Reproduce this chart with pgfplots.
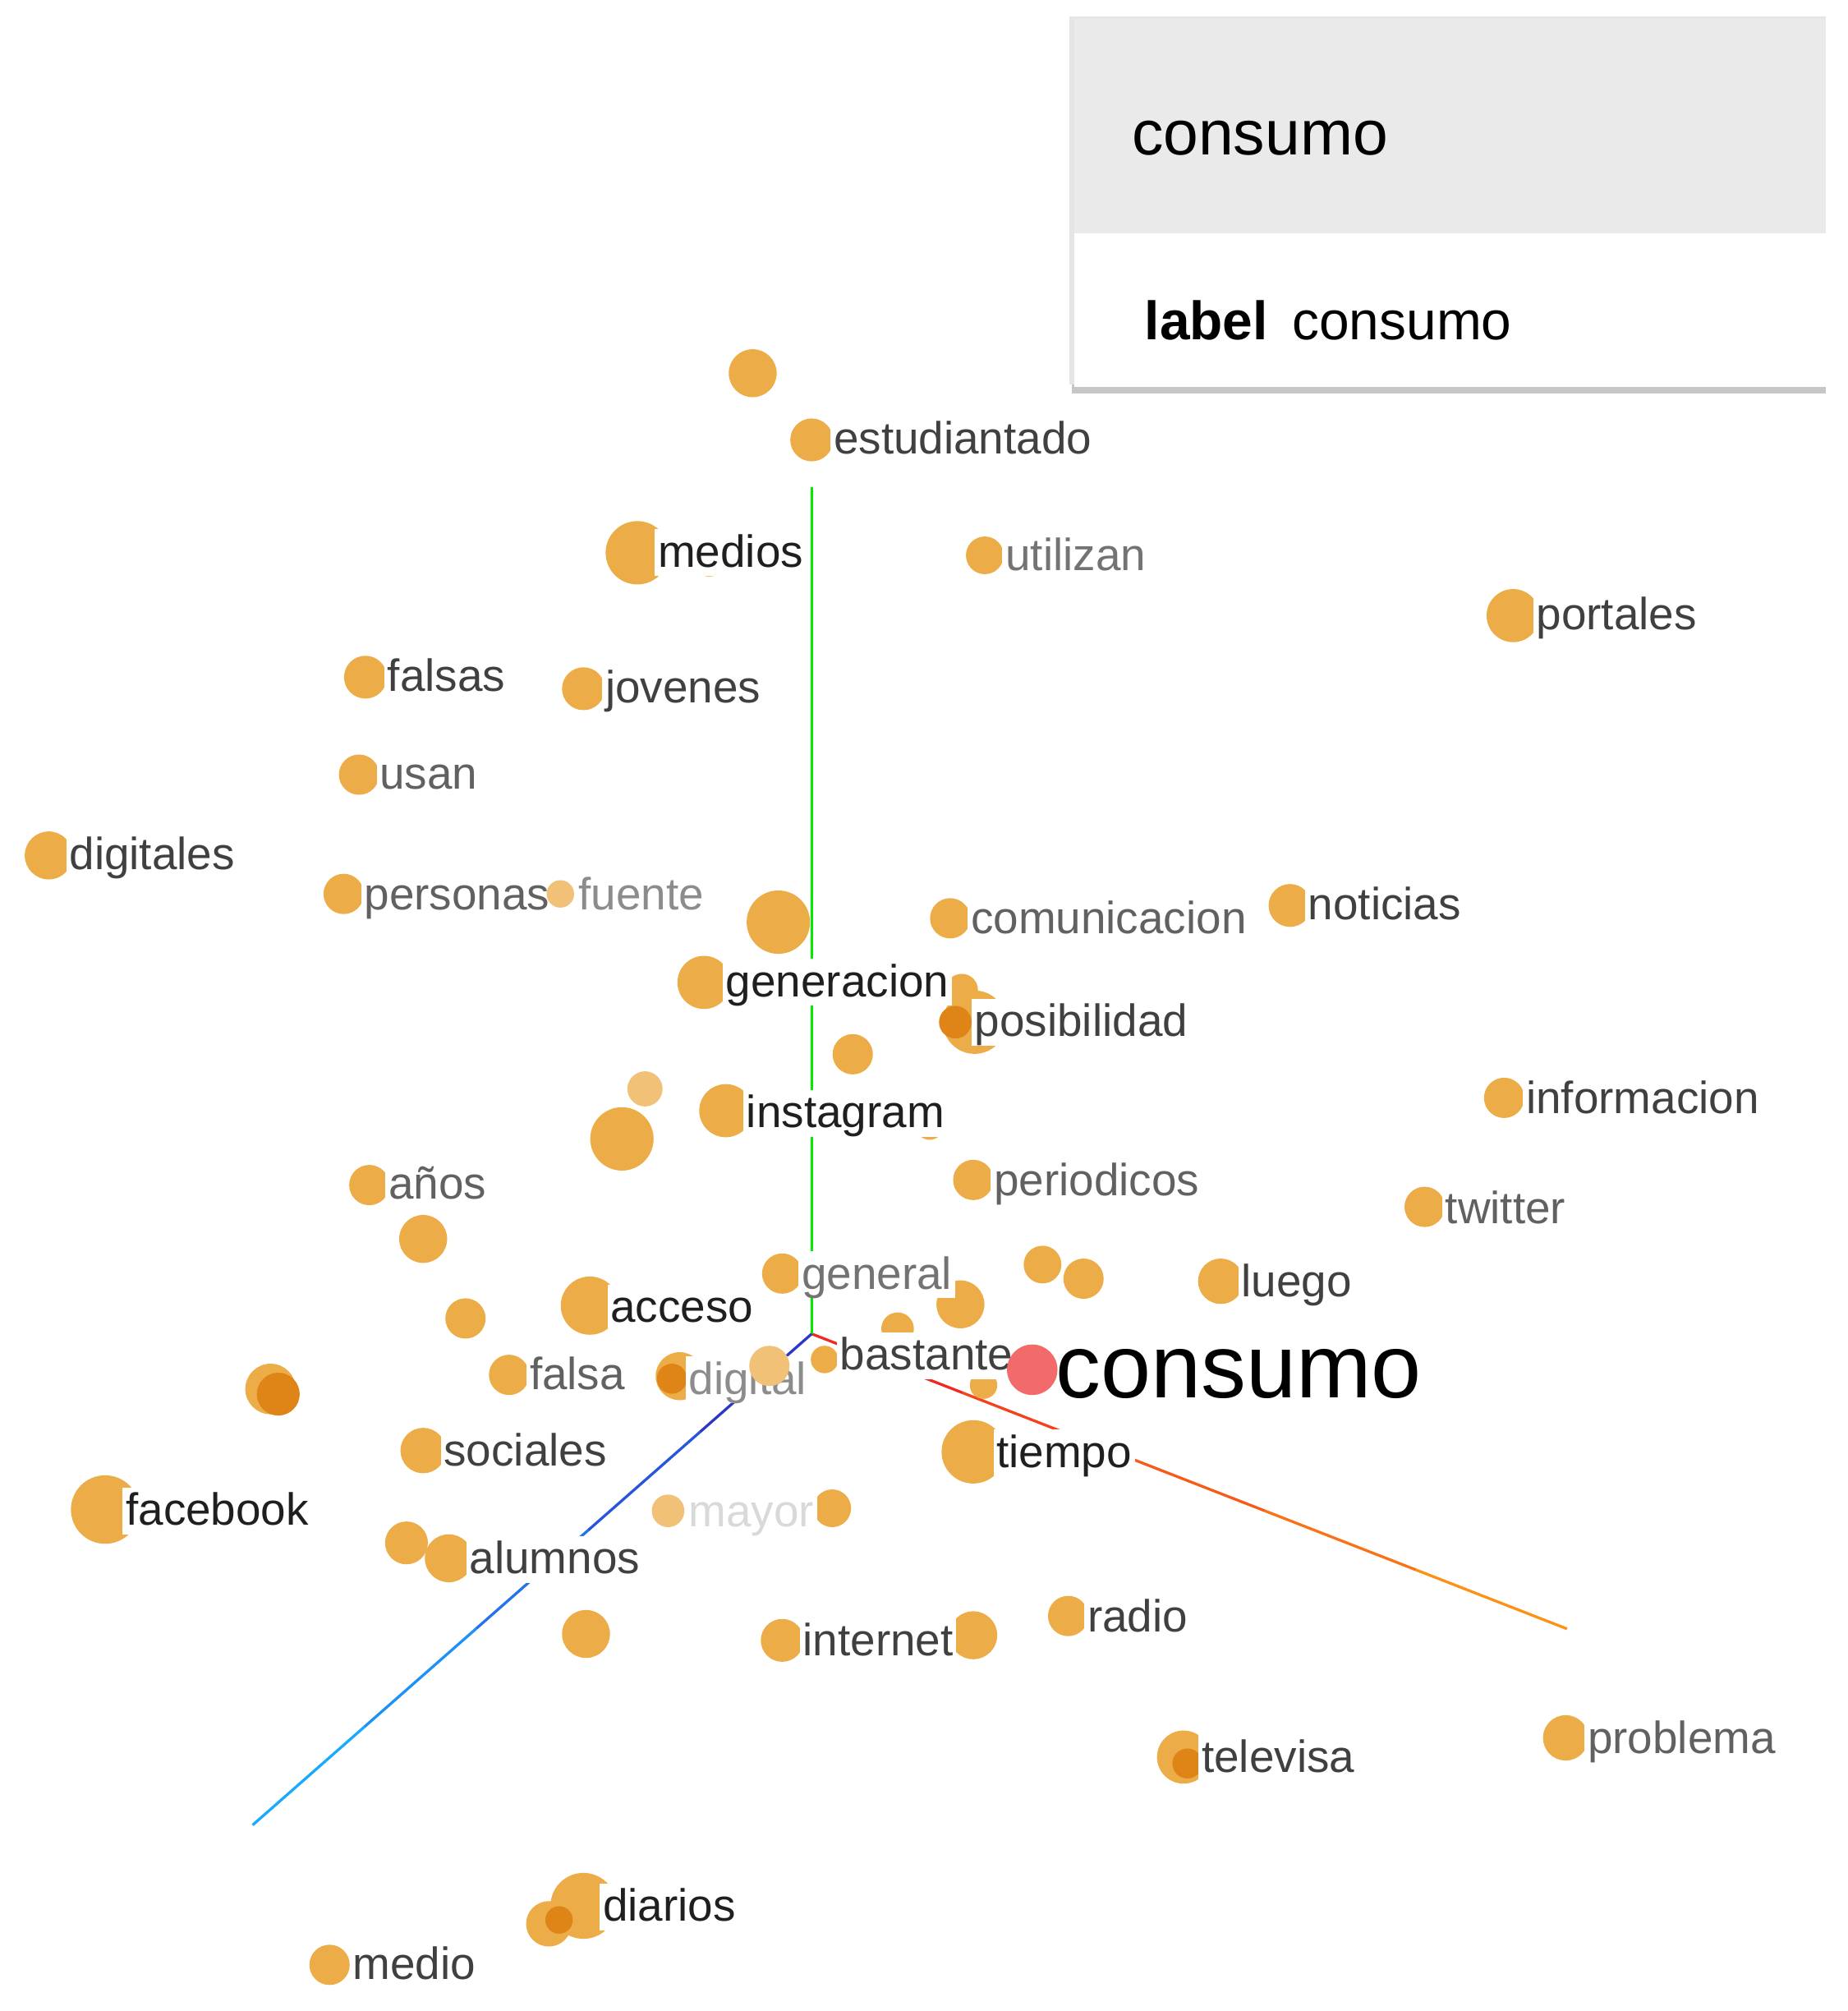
\documentclass[border=0pt]{standalone}
\usepackage{fontspec}
\setmainfont{Liberation Sans}
\usepackage{pgfplots}
\pgfplotsset{compat=1.18}
\usepackage{pgfplotstable}

\definecolor{dotc}{RGB}{236,173,72}
\definecolor{dotl}{RGB}{241,193,120}
\definecolor{dotd}{RGB}{223,132,22}
\definecolor{selc}{RGB}{242,106,106}
\definecolor{hdr}{RGB}{234,234,234}

% circles: x, y (screen px), radius (px)
\pgfplotstableread{
x y r
587 291 18
633 343 16
497 431 24
768 433 14
1180 480 20
285 528 16
455 537 16
280 604 15
38 667 18
268 697 15
607 719 24
741 716 15
1006 706 16
549 766 20
750 772 12
760 797 24
665 822 15
1173 856 15
485 888 24
566 866 20
725 878 10
288 924 15
759 920 15
1111 941 15
330 966 18
610 993 15
813 986 14
845 997 15
952 999 17
749 1017 18
460 1018 22
363 1028 15
700 1036 12
643 1060 10
767 1080 10
397 1072 15
530 1073 18
211 1083 19
330 1131 17
759 1132 24
82 1177 26
649 1176 14
317 1203 16
350 1215 18
457 1274 18
610 1279 16
759 1275 18
833 1260 15
923 1370 20
1221 1355 17
428 1500 17
455 1486 25
257 1532 15
}\dotsnormal

\pgfplotstableread{
x y r
553 440 9
503 849 13
521 1178 12
}\dotslight

\pgfplotstableread{
x y r
217 1087 16
745 797 12
524 1075 11
436 1497 10
926 1375 11
}\dotsdark

% labels: x of text start, y of text middle
\pgfplotstableread{
x y label
510 431 medios
563 766 generacion
579 868 instagram
473 1020 acceso
774 1133 tiempo
95 1178 facebook
467 1487 diarios
}\labdark

\pgfplotstableread{
x y label
647 343 estudiantado
1195 480 portales
299 528 falsas
469 537 jovenes
51 667 digitales
1017 706 noticias
757 797 posibilidad
1187 857 informacion
965 1000 luego
652 1057 bastante
343 1132 sociales
363 1216 alumnos
623 1280 internet
845 1261 radio
934 1371 televisa
272 1532 medio
}\labmid

\pgfplotstableread{
x y label
293 604 usan
300 924 años
772 921 periodicos
1124 943 twitter
754 717 comunicacion
1235 1356 problema
410 1072 falsa
281 698 personas
}\labgrey

\pgfplotstableread{
x y label
781 434 utilizan
622 994 general
}\lablight

\pgfplotstableread{
x y label
448 698 fuente
534 1076 digital
}\labpale

\pgfplotstableread{
x y label
534 1179 mayor
}\labfaint

% points drawn over the labels behind them
\pgfplotstableread{
x y r
437 697 10
600 1065 15
}\dotsfront

\begin{document}
\begin{tikzpicture}
\begin{axis}[
    width=14.41cm, height=15.68cm, scale only axis,
    xmin=0, xmax=1441, ymin=0, ymax=1568, y dir=reverse,
    hide axis, clip=false,
    mydots/.style={only marks, mark=*, scatter,
        point meta=\thisrow{r},
        scatter/use mapped color={draw=#1, fill=#1},
        visualization depends on={0.2845*\thisrow{r} \as \rad},
        scatter/@pre marker code/.append style={/tikz/mark size=\rad}},
    mylabs/.style={only marks, mark=none, nodes near coords,
        point meta=explicit symbolic,
        nodes near coords style={anchor=west, inner sep=0.7pt, fill=white,
            text=#1, font=\fontsize{10}{12}\selectfont,
            text height=1.45ex, text depth=0.25ex}},
]
% info panel
\fill[black!22] (axis cs:836,296) rectangle (axis cs:1424,307);
\fill[black!10] (axis cs:834,13) rectangle (axis cs:1424,300);
\fill[hdr] (axis cs:838,15) rectangle (axis cs:1424,182);
\fill[white] (axis cs:838,182) rectangle (axis cs:1424,302);
\node[anchor=west, inner sep=0pt, font=\fontsize{14}{16}\selectfont]
    at (axis cs:882,108) {consumo};
\node[anchor=west, inner sep=0pt, font=\fontsize{12}{14}\selectfont]
    at (axis cs:892,250) {\textbf{label}\hspace{0.45em}consumo};

% red axis (drawn under labels)
\addplot[line width=0.6pt, color={rgb,255:red,242;green,42;blue,29}] coordinates {(633,1040) (750.8,1086)};
\addplot[line width=0.6pt, color={rgb,255:red,245;green,66;blue,27}] coordinates {(750.8,1086) (868.6,1132)};
\addplot[line width=0.6pt, color={rgb,255:red,248;green,90;blue,25}] coordinates {(868.6,1132) (986.4,1178)};
\addplot[line width=0.6pt, color={rgb,255:red,250;green,114;blue,23}] coordinates {(986.4,1178) (1104.2,1224)};
\addplot[line width=0.6pt, color={rgb,255:red,253;green,145;blue,21}] coordinates {(1104.2,1224) (1222,1270)};

\addplot[mydots=dotc] table {\dotsnormal};
\addplot[mydots=dotl] table {\dotslight};
\addplot[mydots=dotd] table {\dotsdark};

\addplot[mylabs=black!45] table[meta=label] {\labpale};
\addplot[mylabs=black!15] table[meta=label] {\labfaint};
\addplot[mylabs=black!55] table[meta=label] {\lablight};
\addplot[mylabs=black!62] table[meta=label] {\labgrey};
\addplot[mylabs=black!75] table[meta=label] {\labmid};
\addplot[mylabs=black!88] table[meta=label] {\labdark};

\addplot[mydots=dotl] table {\dotsfront};

% selected point
\addplot[only marks, mark=*, mark size=5.4pt, draw=selc, fill=selc] coordinates {(805,1068)};
\addplot[only marks, mark=none, nodes near coords, point meta=explicit symbolic,
    nodes near coords style={anchor=west, inner sep=1pt, text=black,
        font=\fontsize{20}{24}\selectfont}]
    coordinates {(819,1071) [consumo]};

% green and blue axes
\addplot[line width=0.6pt, color={rgb,255:red,0;green,235;blue,0}] coordinates {(633,380) (633,1040)};
\addplot[line width=0.6pt, color={rgb,255:red,45;green,55;blue,200}] coordinates {(633,1040) (545.8,1116.6)};
\addplot[line width=0.6pt, color={rgb,255:red,40;green,85;blue,220}] coordinates {(545.8,1116.6) (458.6,1193.2)};
\addplot[line width=0.6pt, color={rgb,255:red,35;green,115;blue,235}] coordinates {(458.6,1193.2) (371.4,1269.8)};
\addplot[line width=0.6pt, color={rgb,255:red,30;green,145;blue,245}] coordinates {(371.4,1269.8) (284.2,1346.4)};
\addplot[line width=0.6pt, color={rgb,255:red,25;green,170;blue,255}] coordinates {(284.2,1346.4) (197,1423)};
\end{axis}
\pgfresetboundingbox
\path (current axis.south west) rectangle (current axis.north east);
\end{tikzpicture}
\end{document}
